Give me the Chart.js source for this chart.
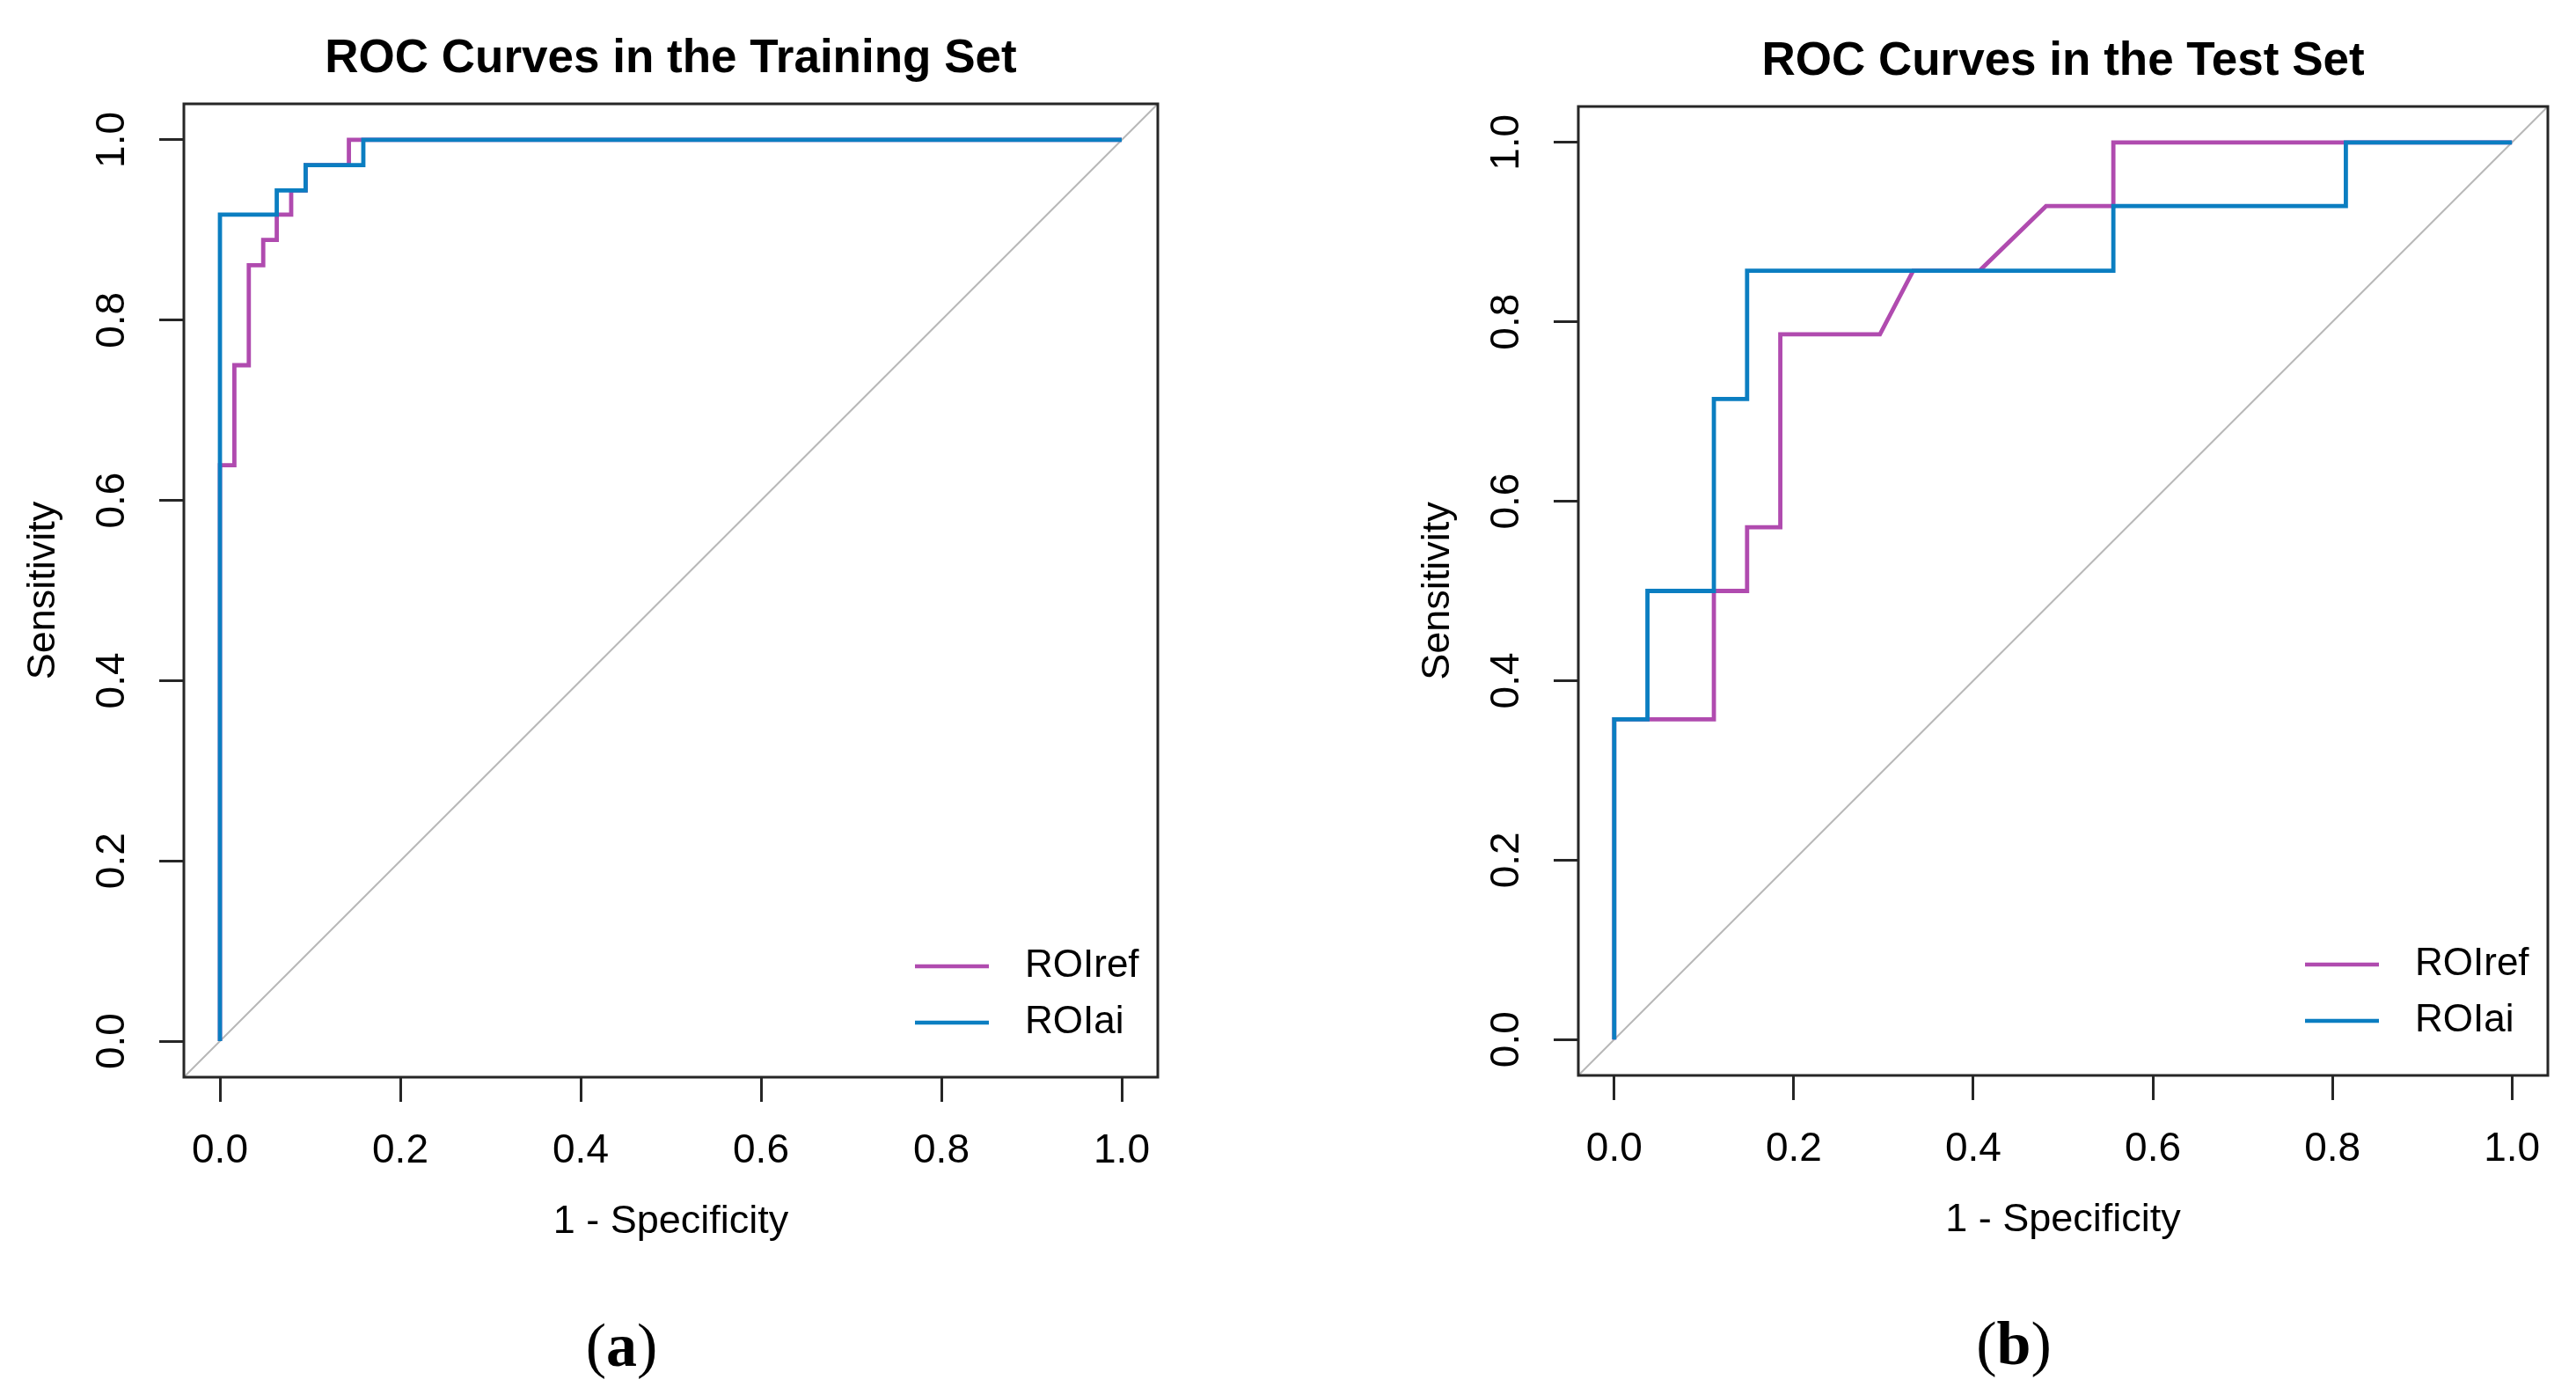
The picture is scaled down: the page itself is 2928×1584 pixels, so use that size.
<!DOCTYPE html>
<html>
<head>
<meta charset="utf-8">
<script src="https://cdn.jsdelivr.net/npm/chart.js@4.4.1/dist/chart.umd.min.js"></script>
<style>
html, body { margin: 0; padding: 0; background: #fff; }
body { width: 2928px; height: 1584px; position: relative; overflow: hidden; }
canvas { position: absolute; top: 0; }
#trainChart { left: 0; }
#testChart { left: 1464px; }
</style>
</head>
<body>
<canvas id="trainChart" width="1464" height="1584"></canvas>
<canvas id="testChart" width="1464" height="1584"></canvas>
<script>
// axis ticks, shared by both panels
const tickValues = [0, 0.2, 0.4, 0.6, 0.8, 1.0];
const axisMin = -0.04;
const axisMax = 1.04;
const seriesNames = ['ROIref', 'ROIai'];
const seriesColors = ['#B04BAF', '#0B7EC1'];

// training set (1 - specificity, sensitivity)
const trainRefFpr = [0, 0, 0.016, 0.016, 0.032, 0.032, 0.048, 0.048, 0.063, 0.063, 0.079, 0.079, 0.095, 0.095, 0.143, 0.143, 1];
const trainRefTpr = [0, 0.639, 0.639, 0.75, 0.75, 0.861, 0.861, 0.889, 0.889, 0.917, 0.917, 0.944, 0.944, 0.972, 0.972, 1, 1];
const trainAiFpr = [0, 0, 0.063, 0.063, 0.095, 0.095, 0.159, 0.159, 1];
const trainAiTpr = [0, 0.917, 0.917, 0.944, 0.944, 0.972, 0.972, 1, 1];

// test set
const testRefFpr = [0, 0, 0.111, 0.111, 0.148, 0.148, 0.185, 0.185, 0.296, 0.333, 0.407, 0.481, 0.556, 0.556, 1];
const testRefTpr = [0, 0.357, 0.357, 0.5, 0.5, 0.571, 0.571, 0.786, 0.786, 0.857, 0.857, 0.929, 0.929, 1, 1];
const testAiFpr = [0, 0, 0.037, 0.037, 0.111, 0.111, 0.148, 0.148, 0.556, 0.556, 0.815, 0.815, 1];
const testAiTpr = [0, 0.357, 0.357, 0.5, 0.5, 0.714, 0.714, 0.857, 0.857, 0.929, 0.929, 1, 1];

const sansFont = '"Liberation Sans", Arial, Helvetica, sans-serif';
const serifFont = '"Liberation Serif", "Times New Roman", serif';

function toPoints(xs, ys) {
    return xs.map((x, i) => ({ x: x, y: ys[i] }));
}

// draws the R-style frame, labels, legend and panel tag
const rFramePlugin = {
    id: 'rFrame',
    afterDraw(chart, args, opts) {
        const ctx = chart.ctx;
        const a = chart.chartArea;
        const yScale = chart.scales.y;
        const cx = (a.left + a.right) / 2;
        ctx.save();

        ctx.strokeStyle = '#262626';
        ctx.lineWidth = 3;
        ctx.strokeRect(a.left, a.top, a.right - a.left, a.bottom - a.top);

        ctx.fillStyle = '#000';
        ctx.textAlign = 'center';
        ctx.textBaseline = 'middle';

        // y tick labels, rotated like R
        ctx.font = '46px ' + sansFont;
        tickValues.forEach(v => {
            ctx.save();
            ctx.translate(a.left - 81, yScale.getPixelForValue(v));
            ctx.rotate(-Math.PI / 2);
            ctx.fillText(v.toFixed(1), 0, 0);
            ctx.restore();
        });

        // axis titles
        ctx.font = '45px ' + sansFont;
        ctx.save();
        ctx.translate(a.left - 159, (yScale.getPixelForValue(0) + yScale.getPixelForValue(1)) / 2);
        ctx.rotate(-Math.PI / 2);
        ctx.fillText('Sensitivity', 0, 0);
        ctx.restore();
        ctx.fillText('1 - Specificity', cx, a.bottom + 165);

        // main title
        ctx.font = 'bold 53px ' + sansFont;
        ctx.fillText(opts.title, cx, a.top - 51);

        // legend
        ctx.font = '44px ' + sansFont;
        ctx.textAlign = 'left';
        ctx.lineWidth = 4.5;
        seriesNames.forEach((name, i) => {
            const ly = a.bottom - 126 + i * 64;
            ctx.strokeStyle = seriesColors[i];
            ctx.beginPath();
            ctx.moveTo(a.right - 276, ly);
            ctx.lineTo(a.right - 192, ly);
            ctx.stroke();
            ctx.fillText(name, a.right - 151, ly);
        });

        // panel tag like (a)
        ctx.textBaseline = 'alphabetic';
        ctx.font = '70px ' + serifFont;
        const wParen = ctx.measureText('(').width;
        ctx.font = 'bold 70px ' + serifFont;
        const wTag = ctx.measureText(opts.tag).width;
        let tx = cx - 56 - (2 * wParen + wTag) / 2;
        const ty = a.bottom + 328;
        ctx.font = '70px ' + serifFont;
        ctx.fillText('(', tx, ty);
        tx += wParen;
        ctx.font = 'bold 70px ' + serifFont;
        ctx.fillText(opts.tag, tx, ty);
        tx += wTag;
        ctx.font = '70px ' + serifFont;
        ctx.fillText(')', tx, ty);

        ctx.restore();
    }
};

function makePanel(canvasId, box, title, tag, refFpr, refTpr, aiFpr, aiTpr) {
    const ctx = document.getElementById(canvasId).getContext('2d');
    const canvasW = 1464;
    const canvasH = 1584;

    const axisGrid = {
        drawOnChartArea: false,
        drawTicks: true,
        tickLength: 28,
        tickWidth: 3,
        tickColor: '#262626'
    };

    return new Chart(ctx, {
        type: 'scatter',
        data: {
            datasets: [{
                label: seriesNames[1],
                data: toPoints(aiFpr, aiTpr),
                borderColor: seriesColors[1],
                borderWidth: 4.8,
                showLine: true,
                pointRadius: 0,
                tension: 0,
                order: 0
            }, {
                label: seriesNames[0],
                data: toPoints(refFpr, refTpr),
                borderColor: seriesColors[0],
                borderWidth: 4.8,
                showLine: true,
                pointRadius: 0,
                tension: 0,
                order: 1
            }, {
                label: 'reference',
                data: toPoints([axisMin, axisMax], [axisMin, axisMax]),
                borderColor: '#B8B8B8',
                borderWidth: 2,
                showLine: true,
                pointRadius: 0,
                order: 2
            }]
        },
        options: {
            responsive: false,
            animation: false,
            devicePixelRatio: 1,
            layout: {
                padding: { top: box.top, right: canvasW - box.right, bottom: 0, left: 0 }
            },
            plugins: {
                legend: { display: false },
                tooltip: { enabled: false },
                title: { display: false },
                rFrame: { title: title, tag: tag }
            },
            scales: {
                x: {
                    type: 'linear',
                    min: axisMin,
                    max: axisMax,
                    afterBuildTicks: (scale) => {
                        scale.ticks = tickValues.map(v => ({ value: v }));
                    },
                    afterFit: (scale) => {
                        scale.height = canvasH - box.bottom;
                    },
                    ticks: {
                        autoSkip: false,
                        maxRotation: 0,
                        padding: 29,
                        color: '#000',
                        font: { family: sansFont, size: 46 },
                        callback: (value) => value.toFixed(1)
                    },
                    grid: axisGrid,
                    border: { display: false }
                },
                y: {
                    type: 'linear',
                    min: axisMin,
                    max: axisMax,
                    afterBuildTicks: (scale) => {
                        scale.ticks = tickValues.map(v => ({ value: v }));
                    },
                    afterFit: (scale) => {
                        scale.width = box.left;
                    },
                    ticks: { display: false },
                    grid: axisGrid,
                    border: { display: false }
                }
            }
        },
        plugins: [rFramePlugin]
    });
}

makePanel('trainChart', { left: 209, right: 1316, top: 118, bottom: 1224 },
    'ROC Curves in the Training Set', 'a', trainRefFpr, trainRefTpr, trainAiFpr, trainAiTpr);
makePanel('testChart', { left: 330, right: 1432, top: 121, bottom: 1222 },
    'ROC Curves in the Test Set', 'b', testRefFpr, testRefTpr, testAiFpr, testAiTpr);
</script>
</body>
</html>
